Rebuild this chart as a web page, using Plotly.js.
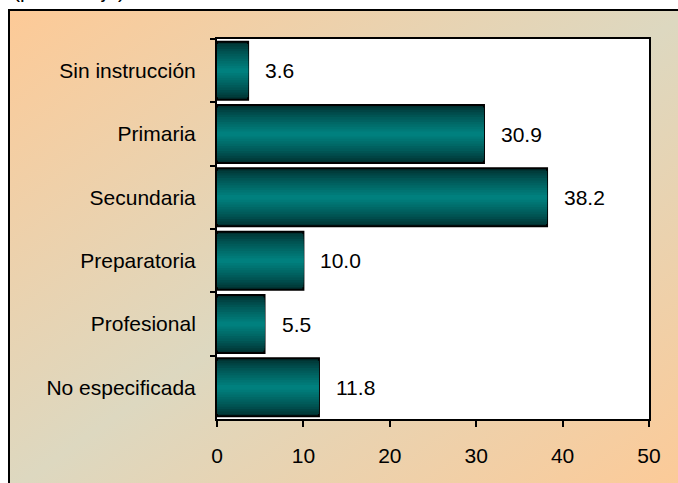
<!DOCTYPE html>
<html>
<head>
<meta charset="utf-8">
<script src="https://cdn.plot.ly/plotly-3.0.1.min.js"></script>
<style>
  html, body { margin: 0; padding: 0; background: #ffffff; overflow: hidden; }
  #frame {
    position: absolute; left: 8px; top: 9px; width: 680px; height: 480px;
    border-top: 2px solid #000; border-left: 2px solid #000;
    background: linear-gradient(to bottom right, #fdca97 0%, #ddd8c0 50%, #fdca97 100%);
  }
  #chart { position: absolute; left: 0; top: 0; width: 678px; height: 483px; }
</style>
</head>
<body>
<div id="frame"></div>
<div id="chart"></div>
<script>
const categories = ["Sin instrucción", "Primaria", "Secundaria", "Preparatoria", "Profesional", "No especificada"];
const values = [3.6, 30.9, 38.2, 10.0, 5.5, 11.8];
const valueLabels = ["3.6", "30.9", "38.2", "10.0", "5.5", "11.8"];
const xTicks = [0, 10, 20, 30, 40, 50];

const FONT = "Liberation Sans, Arial, sans-serif";
const N = 12;
const fullWidth = 0.915;
const dark = [0, 48, 48];
const mid = [0, 128, 126];
const traces = [];
for (let k = 0; k < N; k++) {
  const t = k / (N - 1);
  const c = dark.map((d, i) => Math.round(d + (mid[i] - d) * Math.pow(t, 0.8)));
  const w = fullWidth * (1 - k / N);
  traces.push({
    type: "bar",
    orientation: "h",
    x: values,
    y: categories,
    width: categories.map(() => w),
    marker: {
      color: "rgb(" + c.join(",") + ")",
      line: k === 0 ? { color: "#000", width: 2 } : { width: 0 }
    },
    hoverinfo: "skip",
    showlegend: false
  });
}

const annotations = categories.map((cat, i) => ({
  x: values[i], y: cat, xref: "x", yref: "y",
  text: valueLabels[i], showarrow: false,
  xanchor: "left", yanchor: "middle", xshift: 15,
  font: { family: FONT, size: 21, color: "#000" }
}));
annotations.push({
  xref: "paper", yref: "paper", x: -0.476, y: 1.092,
  xanchor: "left", yanchor: "bottom", showarrow: false,
  text: "(porcentaje)",
  font: { family: FONT, size: 21, color: "#000" }
});

const layout = {
  width: 678, height: 483,
  margin: { l: 217, r: 29, t: 39, b: 64 },
  paper_bgcolor: "rgba(0,0,0,0)",
  plot_bgcolor: "#ffffff",
  barmode: "overlay",
  font: { family: FONT, size: 21, color: "#000" },
  xaxis: {
    range: [0, 50], tickvals: xTicks, ticks: "outside", ticklen: 6, tickwidth: 2, tickcolor: "#000",
    showline: true, linewidth: 2, linecolor: "#000", mirror: true, showgrid: false, zeroline: false,
    ticklabelstandoff: 11,
    tickfont: { family: FONT, size: 21, color: "#000" }
  },
  yaxis: {
    type: "category", autorange: "reversed", categoryorder: "array", categoryarray: categories,
    ticks: "outside", tickson: "boundaries", ticklen: 5, tickwidth: 2, tickcolor: "#000",
    showline: true, linewidth: 2, linecolor: "#000", mirror: true, showgrid: false, zeroline: false,
    ticklabelstandoff: 15,
    tickfont: { family: FONT, size: 21, color: "#000" }
  },
  annotations: annotations
};

Plotly.newPlot("chart", traces, layout, { displayModeBar: false, staticPlot: true });
</script>
</body>
</html>
